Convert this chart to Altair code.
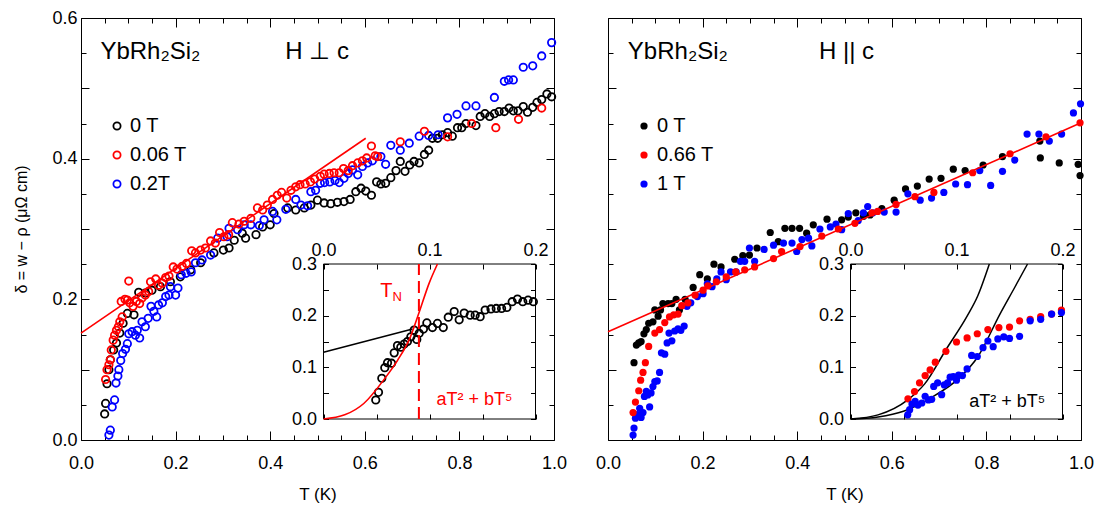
import altair as alt
import pandas as pd

FONT = "Liberation Sans"
W, H = 473, 422
RED, BLUE, BLACK = "#ff0000", "#0000ff", "#000000"

# ---------------- Left panel: H perp c (open circles) ----------------
L_LABELS = ["0 T", "0.06 T", "0.2T"]
L_0T = [(0.050,0.037),(0.052,0.052),(0.055,0.080),(0.059,0.100),(0.062,0.114),(0.069,0.128),(0.075,0.138),
        (0.082,0.152),(0.089,0.166),(0.098,0.180),(0.112,0.178),(0.122,0.210),(0.136,0.209),(0.150,0.213),
        (0.168,0.218),(0.189,0.225),(0.210,0.232),(0.232,0.242),(0.253,0.252),(0.281,0.266),(0.301,0.270),
        (0.313,0.273),(0.324,0.284),(0.341,0.294),(0.348,0.287),(0.370,0.292),(0.384,0.303),(0.400,0.306),
        (0.408,0.322),(0.437,0.330),(0.454,0.327),(0.472,0.330),(0.486,0.334),(0.500,0.341),(0.514,0.337),
        (0.528,0.336),(0.542,0.338),(0.556,0.339),(0.569,0.342),(0.581,0.353),(0.592,0.358),(0.602,0.354),
        (0.614,0.348),(0.625,0.367),(0.634,0.364),(0.644,0.365),(0.655,0.373),(0.666,0.383),(0.675,0.396),
        (0.685,0.382),(0.695,0.391),(0.704,0.396),(0.715,0.394),(0.726,0.406),(0.735,0.412),(0.743,0.429),
        (0.754,0.429),(0.764,0.434),(0.775,0.437),(0.785,0.432),(0.796,0.444),(0.805,0.444),(0.814,0.450),
        (0.835,0.447),(0.844,0.460),(0.854,0.464),(0.864,0.460),(0.874,0.464),(0.884,0.467),(0.895,0.467),
        (0.905,0.472),(0.914,0.468),(0.924,0.468),(0.935,0.474),(0.944,0.466),(0.955,0.473),(0.964,0.480),
        (0.974,0.484),(0.985,0.492),(0.995,0.488)]
L_006T = [(0.052,0.086),(0.055,0.100),(0.059,0.107),(0.062,0.114),(0.064,0.128),(0.068,0.142),(0.071,0.149),
          (0.075,0.156),(0.079,0.161),(0.082,0.168),(0.087,0.175),(0.085,0.197),(0.093,0.200),(0.098,0.199),
          (0.101,0.226),(0.103,0.195),(0.110,0.190),(0.117,0.197),(0.124,0.194),(0.129,0.202),(0.136,0.206),
          (0.143,0.211),(0.147,0.225),(0.158,0.229),(0.164,0.220),(0.172,0.223),(0.179,0.231),(0.186,0.233),
          (0.195,0.246),(0.203,0.243),(0.214,0.247),(0.223,0.251),(0.234,0.269),(0.242,0.266),(0.253,0.270),
          (0.263,0.273),(0.274,0.283),(0.284,0.280),(0.293,0.295),(0.302,0.289),(0.312,0.292),(0.320,0.309),
          (0.334,0.307),(0.345,0.311),(0.359,0.315),(0.373,0.330),(0.384,0.327),(0.394,0.334),(0.405,0.342),
          (0.415,0.348),(0.424,0.352),(0.435,0.344),(0.444,0.355),(0.454,0.360),(0.463,0.363),(0.474,0.364),
          (0.485,0.367),(0.494,0.371),(0.506,0.375),(0.514,0.378),(0.525,0.379),(0.535,0.380),(0.546,0.380),
          (0.555,0.386),(0.565,0.383),(0.574,0.390),(0.585,0.394),(0.595,0.397),(0.604,0.401),(0.614,0.418),
          (0.622,0.404),(0.627,0.403),(0.675,0.424),(0.726,0.439),(0.775,0.431),(0.826,0.450),(0.877,0.444),
          (0.925,0.456),(0.974,0.472)]
L_02T = [(0.059,0.007),(0.062,0.014),(0.066,0.047),(0.071,0.057),(0.074,0.081),(0.078,0.091),(0.080,0.100),
         (0.084,0.113),(0.088,0.123),(0.094,0.129),(0.098,0.137),(0.101,0.151),(0.108,0.154),(0.115,0.149),
         (0.119,0.156),(0.124,0.145),(0.129,0.168),(0.136,0.161),(0.142,0.173),(0.148,0.190),(0.154,0.183),
         (0.160,0.175),(0.164,0.192),(0.172,0.195),(0.179,0.204),(0.186,0.206),(0.189,0.218),(0.200,0.206),
         (0.205,0.216),(0.212,0.235),(0.222,0.237),(0.233,0.239),(0.242,0.252),(0.256,0.256),(0.274,0.263),
         (0.289,0.287),(0.309,0.289),(0.313,0.301),(0.331,0.299),(0.345,0.306),(0.359,0.306),(0.377,0.305),
         (0.387,0.313),(0.405,0.325),(0.414,0.313),(0.433,0.328),(0.454,0.342),(0.465,0.334),(0.479,0.333),
         (0.486,0.353),(0.496,0.355),(0.506,0.365),(0.515,0.366),(0.526,0.367),(0.537,0.369),(0.546,0.366),
         (0.556,0.372),(0.565,0.379),(0.574,0.384),(0.585,0.377),(0.595,0.389),(0.606,0.394),(0.616,0.397),
         (0.634,0.403),(0.644,0.392),(0.655,0.419),(0.675,0.412),(0.694,0.422),(0.715,0.432),(0.735,0.433),
         (0.755,0.434),(0.775,0.458),(0.795,0.463),(0.814,0.475),(0.835,0.475),(0.874,0.487),(0.895,0.510),
         (0.904,0.512),(0.914,0.512),(0.935,0.530),(0.955,0.532),(0.974,0.546),(0.995,0.565)]
L_FIT = [(0.0,0.152),(0.602,0.429)]

# Left inset (0 T)
LI_0T = [(0.0493,0.0368),(0.0519,0.0516),(0.055,0.0787),(0.0578,0.0993),(0.0604,0.109),(0.0642,0.108),
         (0.0667,0.128),(0.0698,0.142),(0.0729,0.139),(0.0761,0.145),(0.0792,0.150),(0.0824,0.159),
         (0.0855,0.172),(0.088,0.154),(0.0903,0.166),(0.0943,0.174),(0.0975,0.186),(0.1028,0.177),
         (0.1075,0.185),(0.113,0.177),(0.1177,0.197),(0.1233,0.208),(0.128,0.192),(0.1327,0.205),
         (0.1384,0.201),(0.1431,0.201),(0.1478,0.198),(0.1525,0.211),(0.158,0.213),(0.163,0.214),
         (0.168,0.214),(0.173,0.216),(0.178,0.227),(0.183,0.232),(0.188,0.227),(0.193,0.230),(0.198,0.227)]
LI_LINE = [(0.0,0.129),(0.084,0.174)]
LI_CURVE = [(0.0,0.0),(0.02,0.008),(0.038,0.030),(0.058,0.079),(0.070,0.114),(0.082,0.159),(0.090,0.205),
            (0.0997,0.263),(0.1075,0.300)]
LI_TN = [(0.090,0.0,0.3)]

# ---------------- Right panel: H || c (filled dots) ----------------
R_LABELS = ["0 T", "0.66 T", "1 T"]
R_0T = [(0.055,0.110),(0.060,0.135),(0.065,0.138),(0.070,0.140),(0.076,0.151),(0.081,0.157),(0.086,0.166),
        (0.095,0.168),(0.099,0.185),(0.106,0.176),(0.111,0.185),(0.116,0.194),(0.127,0.194),(0.135,0.194),
        (0.144,0.200),(0.151,0.185),(0.163,0.200),(0.180,0.217),(0.194,0.235),(0.210,0.229),(0.224,0.250),
        (0.239,0.246),(0.268,0.257),(0.285,0.262),(0.299,0.263),(0.315,0.273),(0.343,0.295),(0.360,0.282),
        (0.374,0.301),(0.389,0.301),(0.405,0.301),(0.420,0.294),(0.434,0.306),(0.463,0.314),(0.494,0.313),
        (0.508,0.317),(0.524,0.323),(0.540,0.318),(0.554,0.320),(0.579,0.329),(0.605,0.341),(0.629,0.357),
        (0.654,0.361),(0.679,0.371),(0.704,0.372),(0.730,0.385),(0.755,0.383),(0.793,0.391),(0.834,0.403),
        (0.913,0.425),(0.914,0.401),(0.954,0.394),(0.994,0.392),(0.998,0.376)]
R_066T = [(0.053,0.039),(0.058,0.054),(0.065,0.070),(0.069,0.085),(0.074,0.096),(0.079,0.110),(0.086,0.133),
          (0.099,0.152),(0.109,0.157),(0.120,0.167),(0.130,0.175),(0.139,0.178),(0.148,0.179),(0.156,0.191),
          (0.169,0.195),(0.184,0.206),(0.201,0.213),(0.211,0.219),(0.229,0.225),(0.250,0.232),(0.270,0.239),
          (0.289,0.242),(0.310,0.246),(0.350,0.258),(0.367,0.268),(0.406,0.275),(0.452,0.290),(0.487,0.300),
          (0.522,0.308),(0.558,0.323),(0.570,0.325),(0.609,0.335),(0.649,0.346),(0.689,0.352),(0.771,0.380),
          (0.850,0.407),(0.926,0.431),(0.998,0.451)]
R_1T = [(0.053,0.007),(0.055,0.017),(0.058,0.031),(0.062,0.036),(0.067,0.045),(0.070,0.032),(0.074,0.039),
        (0.077,0.062),(0.081,0.069),(0.084,0.064),(0.088,0.047),(0.091,0.067),(0.095,0.076),(0.099,0.083),
        (0.104,0.084),(0.109,0.096),(0.113,0.124),(0.120,0.122),(0.125,0.138),(0.129,0.152),(0.135,0.141),
        (0.141,0.155),(0.148,0.158),(0.154,0.156),(0.161,0.162),(0.167,0.190),(0.175,0.195),(0.189,0.204),
        (0.201,0.208),(0.210,0.222),(0.220,0.218),(0.230,0.229),(0.239,0.239),(0.250,0.228),(0.259,0.239),
        (0.271,0.239),(0.280,0.254),(0.289,0.254),(0.299,0.273),(0.310,0.254),(0.330,0.271),(0.350,0.277),
        (0.371,0.280),(0.389,0.280),(0.399,0.268),(0.410,0.285),(0.424,0.287),(0.431,0.276),(0.448,0.300),
        (0.470,0.303),(0.482,0.307),(0.494,0.299),(0.508,0.322),(0.529,0.312),(0.540,0.323),(0.549,0.332),
        (0.560,0.323),(0.584,0.324),(0.609,0.324),(0.634,0.350),(0.660,0.341),(0.684,0.344),(0.710,0.352),
        (0.735,0.364),(0.760,0.363),(0.786,0.383),(0.809,0.362),(0.834,0.382),(0.860,0.398),(0.886,0.435),
        (0.911,0.435),(0.933,0.425),(0.959,0.435),(0.984,0.465),(0.999,0.478)]
R_FIT = [(0.0,0.154),(1.0,0.451)]

# Right inset
RI_066T = [(0.0542,0.039),(0.0604,0.053),(0.0651,0.070),(0.0704,0.084),(0.0751,0.095),(0.080,0.110),
           (0.090,0.131),(0.100,0.149),(0.110,0.157),(0.1196,0.165),(0.1296,0.173),(0.140,0.177),
           (0.150,0.178),(0.1595,0.190),(0.1695,0.193),(0.1794,0.198),(0.1897,0.203),(0.199,0.211)]
RI_1T = [(0.054,0.008),(0.0558,0.018),(0.058,0.029),(0.061,0.034),(0.0636,0.027),(0.0673,0.031),(0.0704,0.044),
         (0.0735,0.037),(0.0766,0.038),(0.0785,0.063),(0.0822,0.070),(0.086,0.047),(0.0885,0.066),(0.0916,0.070),
         (0.094,0.081),(0.097,0.082),(0.100,0.075),(0.102,0.085),(0.1056,0.084),(0.110,0.097),(0.1143,0.123),
         (0.1196,0.121),(0.125,0.138),(0.1296,0.151),(0.1346,0.140),(0.139,0.155),(0.1446,0.159),(0.150,0.156),
         (0.1595,0.160),(0.1695,0.190),(0.1794,0.193),(0.1897,0.203),(0.199,0.206)]
RI_CURVE_A = [(0.0,0.0),(0.026,0.008),(0.054,0.037),(0.070,0.068),(0.090,0.134),(0.110,0.199),(0.120,0.238),
              (0.131,0.300)]
RI_CURVE_B = [(0.0,0.0),(0.026,0.004),(0.050,0.015),(0.075,0.040),(0.104,0.082),(0.120,0.120),(0.141,0.203),
              (0.155,0.255),(0.167,0.300)]

# Text annotations (data coordinates)
L_TITLES = [("YbRh₂Si₂", 0.041, 0.552), ("H ⊥ c", 0.432, 0.552)]
R_TITLES = [("YbRh₂Si₂", 0.042, 0.552), ("H || c", 0.446, 0.552)]
Y_TITLE = "δ = w − ρ (μΩ cm)"
X_TITLE = "T (K)"

# tick values
X_MAJ = [0.0, 0.2, 0.4, 0.6, 0.8, 1.0]
X_MIN = [0.05, 0.1, 0.15, 0.25, 0.3, 0.35, 0.45, 0.5, 0.55, 0.65, 0.7, 0.75, 0.85, 0.9, 0.95]
Y_MAJ = [0.0, 0.1, 0.2, 0.3, 0.4, 0.5, 0.6]
Y_MIN = [0.05, 0.15, 0.25, 0.35, 0.45, 0.55]
IX_TICKS = [0.0, 0.05, 0.1, 0.15, 0.2]
IY_TICKS = [0.0, 0.05, 0.1, 0.15, 0.2, 0.25, 0.3]
INSET_BOX = [(0.0, 0.2, 0.0, 0.3)]

IX_RANGE = [242.5, 454.5]
IY_RANGE = [401, 246]
TK_MAJ, TK_MIN, TK_IN = 9, 5, 5


def df_of(pairs, label=None):
    d = pd.DataFrame(pairs, columns=["T", "d"])
    if label is not None:
        d["s"] = label
    return d


def ax(orient, values, tick, edge=0, **kw):
    """Axis whose ticks point inward: the axis line is moved `tick` px inside
    the edge at `edge` px, so the ticks end exactly on that edge."""
    base = dict(orient=orient, values=values, tickSize=tick, offset=-(edge + tick), labels=False,
                domain=False, grid=False, title=None, labelFlush=False, labelOverlap=False,
                tickColor=BLACK, tickWidth=1)
    base.update(kw)
    return alt.Axis(**base)


def main_group(series, order, colors, filled, fit, titles, ylabels):
    xs = alt.Scale(domain=[0, 1], nice=False, zero=False)
    ys = alt.Scale(domain=[0, 0.6], nice=False, zero=False)
    data = pd.concat(series, ignore_index=True)
    xa = ax("bottom", X_MAJ, TK_MAJ, labels=True, format=".1f", labelPadding=14,
            title=X_TITLE, titlePadding=14)
    if ylabels:
        ya = ax("left", Y_MAJ, 8, labels=True,
                labelExpr="round(datum.value*10) % 2 == 0 ? format(datum.value, '.1f') : ''",
                labelPadding=4, title=Y_TITLE, titlePadding=22, titleFontSize=16)
    else:
        ya = ax("left", Y_MAJ, 8)
    if filled:
        mk = alt.Chart(data).mark_point(shape="circle", filled=True, size=52, strokeWidth=0, opacity=1)
    else:
        mk = alt.Chart(data).mark_point(shape="circle", filled=False, size=55, strokeWidth=1.8, opacity=1)
    pts = mk.encode(
        x=alt.X("T:Q", scale=xs, axis=xa),
        y=alt.Y("d:Q", scale=ys, axis=ya),
        color=alt.Color("s:N", scale=alt.Scale(domain=order, range=colors),
                        legend=alt.Legend(title=None, orient="none", legendX=26, legendY=98,
                                          labelFontSize=20, labelFont=FONT, labelColor=BLACK,
                                          symbolSize=52, symbolStrokeWidth=1.8 if not filled else 0,
                                          rowPadding=9, labelOffset=3, padding=0)),
    )
    line = alt.Chart(df_of(fit)).mark_line(color=RED, strokeWidth=1.6).encode(
        x=alt.X("T:Q", scale=xs, axis=ax("bottom", X_MIN, TK_MIN)),
        y=alt.Y("d:Q", scale=ys, axis=ax("left", Y_MIN, TK_MIN)),
    )
    tdf = pd.DataFrame(titles, columns=["txt", "T", "d"])
    t1 = alt.Chart(tdf.iloc[[0]]).mark_text(align="left", baseline="middle", fontSize=24, font=FONT,
                                           color=BLACK).encode(
        x=alt.X("T:Q", scale=xs, axis=ax("top", X_MAJ, TK_MAJ)),
        y=alt.Y("d:Q", scale=ys, axis=ax("right", Y_MAJ, 8)),
        text="txt:N",
    )
    t2 = alt.Chart(tdf.iloc[[1]]).mark_text(align="left", baseline="middle", fontSize=24, font=FONT,
                                           color=BLACK).encode(
        x=alt.X("T:Q", scale=xs, axis=ax("top", X_MIN, TK_MIN)),
        y=alt.Y("d:Q", scale=ys, axis=ax("right", Y_MIN, TK_MIN)),
        text="txt:N",
    )
    return alt.layer(pts, line, t1, t2).resolve_axis(x="independent", y="independent")


def inset_scales():
    xi = alt.Scale(domain=[0, 0.2], range=IX_RANGE, nice=False, zero=False)
    yi = alt.Scale(domain=[0, 0.3], range=IY_RANGE, nice=False, zero=False)
    return xi, yi


LAB_EXPR = "round(datum.value*100) % 10 == 0 ? format(datum.value, '.1f') : ''"


def inset_axes_a():
    return (ax("top", IX_TICKS, TK_IN, edge=IY_RANGE[1], labels=True, labelExpr=LAB_EXPR, labelPadding=5),
            ax("left", IY_TICKS, TK_IN, edge=IX_RANGE[0], labels=True, labelExpr=LAB_EXPR, labelPadding=7))


def inset_axes_b():
    return (ax("bottom", IX_TICKS, TK_IN, edge=H - IY_RANGE[0]),
            ax("right", IY_TICKS, TK_IN, edge=W - IX_RANGE[1]))


def inset_frame(xi, yi):
    return alt.Chart(pd.DataFrame(INSET_BOX, columns=["x0", "x1", "y0", "y1"])).mark_rect(
        fill="white", fillOpacity=0, stroke=BLACK, strokeWidth=1).encode(
        x=alt.X("x0:Q", scale=xi, axis=None), x2="x1:Q",
        y=alt.Y("y0:Q", scale=yi, axis=None), y2="y1:Q")


def left_inset():
    xi, yi = inset_scales()
    xa, ya = inset_axes_a()
    xb, yb = inset_axes_b()
    frame = inset_frame(xi, yi)
    pts = alt.Chart(df_of(LI_0T)).mark_point(shape="circle", filled=False, size=55, strokeWidth=1.8,
                                              color=BLACK, opacity=1).encode(
        x=alt.X("T:Q", scale=xi, axis=xa), y=alt.Y("d:Q", scale=yi, axis=ya))
    lin = alt.Chart(df_of(LI_LINE)).mark_line(color=BLACK, strokeWidth=1.5).encode(
        x=alt.X("T:Q", scale=xi, axis=xb), y=alt.Y("d:Q", scale=yi, axis=yb))
    cur = alt.Chart(df_of(LI_CURVE)).mark_line(color=RED, strokeWidth=1.6, interpolate="monotone").encode(
        x=alt.X("T:Q", scale=xi, axis=None), y=alt.Y("d:Q", scale=yi, axis=None))
    tn = alt.Chart(pd.DataFrame(LI_TN, columns=["T", "y0", "y1"])).mark_rule(
        color=RED, strokeWidth=2, strokeDash=[12, 6]).encode(
        x=alt.X("T:Q", scale=xi, axis=None), y=alt.Y("y0:Q", scale=yi, axis=None), y2="y1:Q")
    lab = pd.DataFrame([("T", 0.0535, 0.248, 20), ("N", 0.0650, 0.236, 13)],
                       columns=["txt", "T", "d", "fs"])
    tl = alt.Chart(lab).mark_text(align="left", baseline="middle", font=FONT, color=RED).encode(
        x=alt.X("T:Q", scale=xi, axis=None), y=alt.Y("d:Q", scale=yi, axis=None), text="txt:N",
        size=alt.Size("fs:Q", scale=None, legend=None))
    fl = alt.Chart(pd.DataFrame([("aT² + bT⁵", 0.1065, 0.037)], columns=["txt", "T", "d"])).mark_text(
        align="left", baseline="middle", font=FONT, fontSize=18, color=RED).encode(
        x=alt.X("T:Q", scale=xi, axis=None), y=alt.Y("d:Q", scale=yi, axis=None), text="txt:N")
    return alt.layer(frame, pts, lin, cur, tn, tl, fl).resolve_axis(x="independent", y="independent")


def right_inset():
    xi, yi = inset_scales()
    xa, ya = inset_axes_a()
    xb, yb = inset_axes_b()
    frame = inset_frame(xi, yi)
    ca = alt.Chart(df_of(RI_CURVE_A)).mark_line(color=BLACK, strokeWidth=1.5, interpolate="monotone").encode(
        x=alt.X("T:Q", scale=xi, axis=xb), y=alt.Y("d:Q", scale=yi, axis=yb))
    cb = alt.Chart(df_of(RI_CURVE_B)).mark_line(color=BLACK, strokeWidth=1.5, interpolate="monotone").encode(
        x=alt.X("T:Q", scale=xi, axis=None), y=alt.Y("d:Q", scale=yi, axis=None))
    pr = alt.Chart(df_of(RI_066T)).mark_point(shape="circle", filled=True, size=52, strokeWidth=0,
                                              color=RED, opacity=1).encode(
        x=alt.X("T:Q", scale=xi, axis=xa), y=alt.Y("d:Q", scale=yi, axis=ya))
    pb = alt.Chart(df_of(RI_1T)).mark_point(shape="circle", filled=True, size=52, strokeWidth=0,
                                            color=BLUE, opacity=1).encode(
        x=alt.X("T:Q", scale=xi, axis=None), y=alt.Y("d:Q", scale=yi, axis=None))
    fl = alt.Chart(pd.DataFrame([("aT² + bT⁵", 0.112, 0.033)], columns=["txt", "T", "d"])).mark_text(
        align="left", baseline="middle", font=FONT, fontSize=18, color=BLACK).encode(
        x=alt.X("T:Q", scale=xi, axis=None), y=alt.Y("d:Q", scale=yi, axis=None), text="txt:N")
    return alt.layer(frame, ca, cb, pr, pb, fl).resolve_axis(x="independent", y="independent")


left_main = main_group([df_of(L_0T, "0 T"), df_of(L_02T, "0.2T"), df_of(L_006T, "0.06 T")],
                       L_LABELS, [BLACK, RED, BLUE], False, L_FIT, L_TITLES, True)
right_main = main_group([df_of(R_0T, "0 T"), df_of(R_1T, "1 T"), df_of(R_066T, "0.66 T")],
                        R_LABELS, [BLACK, RED, BLUE], True, R_FIT, R_TITLES, False)

left = alt.layer(left_main, left_inset()).resolve_scale(
    x="independent", y="independent").resolve_axis(x="independent", y="independent").properties(
    width=W, height=H)
right = alt.layer(right_main, right_inset()).resolve_scale(
    x="independent", y="independent").resolve_axis(x="independent", y="independent").properties(
    width=W, height=H)

chart = alt.hconcat(left, right, spacing=54, bounds="flush").resolve_scale(color="independent").properties(
    padding={"left": 13, "top": 8, "right": 5, "bottom": 5}
).configure(font=FONT).configure_axis(
    labelFont=FONT, labelFontSize=18, labelColor=BLACK, titleFont=FONT, titleFontSize=17,
    titleFontWeight="normal", titleColor=BLACK
).configure_view(stroke=BLACK, strokeWidth=1)

chart.save("out.html", embed_options={"renderer": "svg", "actions": False})
